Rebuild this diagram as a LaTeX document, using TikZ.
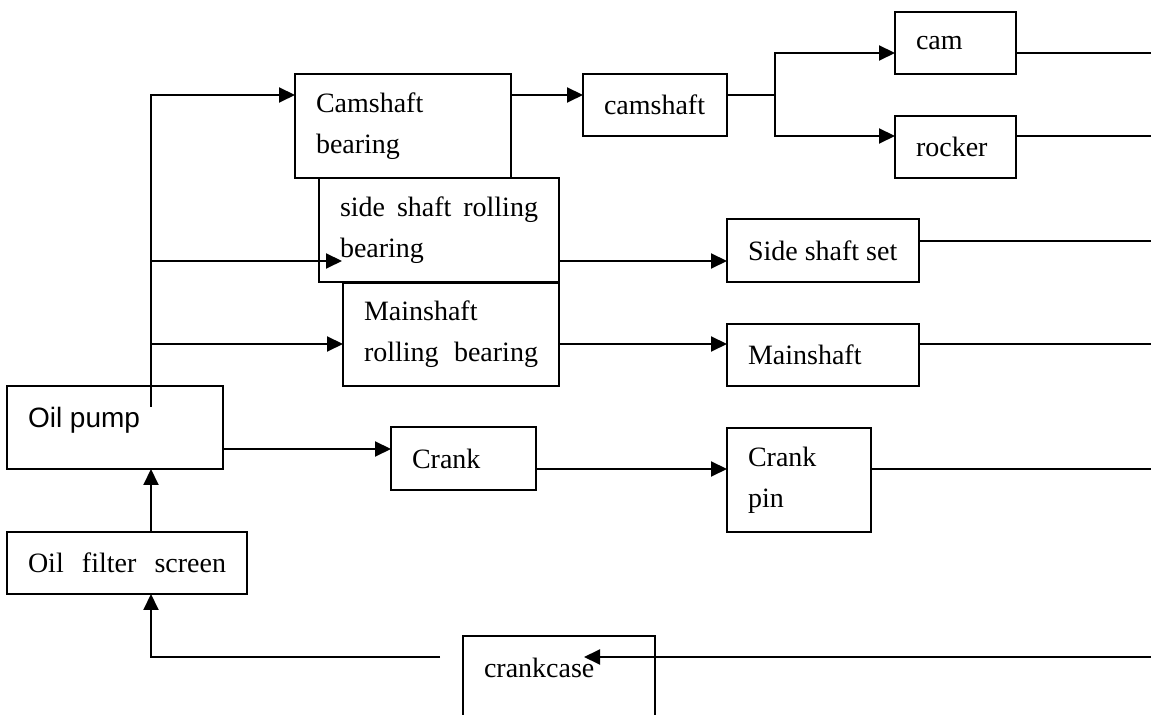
\documentclass[tikz,border=0pt]{standalone}
\usepackage{fontspec}
\setmainfont{Liberation Serif}
\newfontfamily\pumpfont{Liberation Sans}
\usetikzlibrary{arrows.meta}

\begin{document}
\begin{tikzpicture}[x = 0.5pt, y = -0.5pt, line width = 1pt,
                        blk/.style = {draw, anchor = north west, align = flush left, inner xsep = 10.5pt, inner ysep = 0pt,
                                      outer sep = 0pt, font = \fontsize{14}{20.5}\selectfont},
                        flow/.style = {-{Triangle[length = 8pt, width = 7.5pt]}},
                        exitline/.style = {line width = 0.6pt}]
      \useasboundingbox (0, 0) rectangle (1151, 715);
      \node [blk, minimum width = 108pt, text width = 87pt, minimum height = 52pt] (cb) at (295, 74){Camshaft\\bearing};
      \node [blk, minimum width = 72pt, text width = 51pt, minimum height = 31pt] (cs) at (583, 74){\mbox{camshaft}};
      \node [blk, minimum width = 60.5pt, text width = 39.5pt, minimum height = 31pt] (cam) at (895, 12){cam};
      \node [blk, minimum width = 60.5pt, text width = 39.5pt, minimum height = 31pt] (rk) at (895, 116){rocker};
      \node [blk, minimum width = 120pt, text width = 99pt, minimum height = 52pt] (ssb) at (319, 178){\makebox[99pt][s]{side\hfill shaft\hfill rolling}\\bearing};
      \node [blk, minimum width = 96pt, text width = 75pt, minimum height = 31.5pt] (sss) at (727, 219){\mbox{Side shaft set}};
      \node [blk, minimum width = 108pt, text width = 87pt, minimum height = 51.5pt] (mrb) at (343, 283){Mainshaft\\\makebox[87pt][s]{rolling\hfill bearing}};
      \node [blk, minimum width = 96pt, text width = 75pt, minimum height = 31pt] (ms) at (727, 324){Mainshaft};
      \node [blk, minimum width = 108pt, text width = 87pt, minimum height = 41.5pt, text depth = 10pt] (pump) at (7, 386){\pumpfont Oil pump};
      \node [blk, minimum width = 72.5pt, text width = 51.5pt, minimum height = 31.5pt] (crank) at (391, 427){Crank};
      \node [blk, minimum width = 72pt, text width = 51pt, minimum height = 52pt] (cp) at (727, 428){Crank\\pin};
      \node [blk, minimum width = 120pt, text width = 99pt, minimum height = 31pt] (filt) at (7, 532){\makebox[99pt][s]{Oil\hfill filter\hfill screen}};
      \node [blk, minimum width = 96pt, text width = 75pt, text height = 20.5pt, text depth = 40pt] (cc) at (463, 636){crankcase};

      \coordinate (spine) at (151, 407);
      \coordinate (fork) at ([xshift = 24pt, yshift = 5pt] cs.east);
      \coordinate (edge) at (1151, 0);
      \coordinate (ret) at (1151, 657);
      \coordinate (retl) at (440, 657);
      \coordinate (ssbtip) at ([xshift = 11.5pt, yshift = -15.5pt] ssb.west);
      \coordinate (mrbin) at ([yshift = -4.75pt] mrb.west);
      \coordinate (cctip) at ([xshift = 60.5pt] cc.north west);

      % from the pump
      \draw [flow] (spine) |- ([yshift = -10.5pt] cb.north west);
      \draw [flow] (spine |- ssbtip) -- (ssbtip);
      \draw [flow] (spine |- mrbin) -- (mrbin);
      \draw [flow] ([yshift = -10.75pt] pump.east) coordinate (p1) -- (p1 -| crank.west);

      \draw [flow] ([yshift = 15.5pt] cb.east) coordinate (p2) -- (p2 -| cs.west);
      \draw ([yshift = 5pt] cs.east) -- (fork);
      \draw [flow] (fork) |- ([yshift = -5pt] cam.west);
      \draw [flow] (fork) |- ([yshift = 5.5pt] rk.west);
      \draw [flow] ([yshift = -15.5pt] ssb.east) coordinate (p3) -- (p3 -| sss.west);
      \draw [flow] ([yshift = -4.75pt] mrb.east) coordinate (p4) -- (p4 -| ms.west);
      \draw [flow] ([yshift = -5.25pt] crank.east) coordinate (p5) -- (p5 -| cp.west);

      % out to the right
      \foreach \n/\s in {cam/-5pt, rk/5.5pt, sss/4.75pt, ms/5.5pt, cp/5.5pt}
        \draw [exitline] ([yshift = \s] \n.east) coordinate (q) -- (q -| edge);

      % back through the crankcase
      \draw [flow] (ret) -- (ret -| cctip);
      \draw [flow] (retl) -| (filt.south -| spine);
      \draw [flow] (filt.north -| spine) -- (pump.south -| spine);
    \end{tikzpicture}
\end{document}
